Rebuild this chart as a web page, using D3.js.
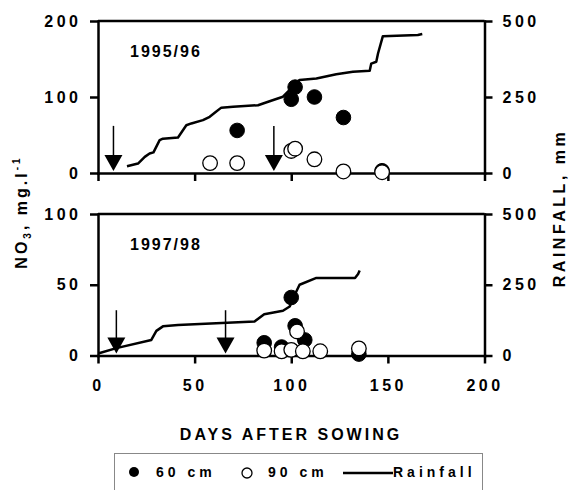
<!DOCTYPE html>
<html>
<head>
<meta charset="utf-8">
<script src="https://cdn.jsdelivr.net/npm/d3@7"></script>
<style>
  body { margin: 0; background: #fff; }
  svg text { font-family: "Liberation Sans", Arial, sans-serif; font-weight: bold; fill: #000; }
</style>
</head>
<body>
<svg id="chart" width="568" height="490"></svg>
<script>
// days after sowing, NO3 (mg/l) at two depths, cumulative rainfall (mm)
const xTicks = [0, 50, 100, 150, 200];

// 1995/96
const days95_60 = [72, 100, 102, 112, 127, 147];
const no3_95_60 = [56, 97, 113, 100, 73, 3];
const days95_90 = [58, 72, 100, 102, 112, 127, 147];
const no3_95_90 = [13, 13, 29, 32, 18, 2, 1];
const rainDays95 = [15, 20.7, 24.2, 26.7, 28.7, 31.9, 33.6, 41.4, 45.7, 48.3, 54.3, 57.8, 60.4, 63.8, 69.9, 82.8, 88.8, 95.7, 99.2, 104.3, 113, 123.3, 131.9, 140.6, 141.4, 144, 144.9, 147.4, 165.5, 167.8];
const rain95 = [22, 31, 53, 64, 68, 108, 113, 117, 157, 163, 174, 185, 198, 215, 218, 223, 236, 251, 273, 306, 311, 325, 333, 336, 360, 366, 393, 450, 454, 457];
const arrowDays95 = [8, 91];
const no3Ticks95 = [0, 100, 200];

// 1997/98
const days97_60 = [86, 95, 100, 102, 107, 135];
const no3_97_60 = [9, 6, 41, 21, 11, 1];
const days97_90 = [86, 95, 100, 103, 106, 115, 135];
const no3_97_90 = [3.5, 3, 4, 17, 3, 3, 5];
const rainDays97 = [0.5, 9.5, 27.6, 30.2, 33.6, 41.4, 81, 86, 95.7, 99.2, 101, 104.3, 113, 133, 134.6, 135.4];
const rain97 = [8, 26, 55, 87, 103, 108, 120, 146, 158, 173, 203, 250, 274, 274, 288, 300];
const arrowDays97 = [9.5, 66];
const no3Ticks97 = [0, 50, 100];

const rainTicks = [0, 250, 500];

const svg = d3.select('#chart');
const x = d3.scaleLinear().domain([0, 200]).range([98, 484.5]);

const zip = (a, b) => a.map((d, i) => [d, b[i]]);

function drawPanel(p) {
  const yL = d3.scaleLinear().domain([0, p.no3Max]).range([p.bottom, p.top]);
  const yR = d3.scaleLinear().domain([0, 500]).range([p.bottom, p.top]);
  const g = svg.append('g');

  // axes
  const left = g.append('g').attr('transform', `translate(${x(0)},0)`)
    .call(d3.axisLeft(yL).tickValues(p.no3Ticks).tickSize(8).tickSizeOuter(0).tickPadding(12));
  const right = g.append('g').attr('transform', `translate(${x(200)},0)`)
    .call(d3.axisRight(yR).tickValues(rainTicks).tickSize(8).tickSizeOuter(0).tickPadding(10));
  const bottom = g.append('g').attr('transform', `translate(0,${p.bottom})`)
    .call(d3.axisBottom(x).tickValues(xTicks).tickSize(8).tickSizeOuter(0).tickPadding(16));
  if (!p.xLabels) bottom.selectAll('text').remove();

  [left, right, bottom].forEach(a => {
    a.select('.domain').attr('stroke-width', 2.5).attr('stroke-linecap', 'square');
    a.selectAll('.tick line').attr('stroke-width', 2.5);
    a.selectAll('text').attr('font-size', 16).attr('letter-spacing', 3.5);
  });
  left.selectAll('text').attr('dx', 3.5);

  // top border
  g.append('line')
    .attr('x1', x(0)).attr('x2', x(200))
    .attr('y1', p.top).attr('y2', p.top)
    .attr('stroke', '#000').attr('stroke-width', 2.5);

  // year label
  g.append('text').attr('x', 130).attr('y', p.top + 36)
    .attr('font-size', 16).attr('letter-spacing', 2).text(p.label);

  // application arrows
  p.arrows.forEach(d => {
    const ax = x(d);
    g.append('line')
      .attr('x1', ax).attr('x2', ax)
      .attr('y1', yL(p.arrowTop)).attr('y2', p.bottom - 10)
      .attr('stroke', '#000').attr('stroke-width', 1.5);
    g.append('path')
      .attr('d', `M${ax - 9},${p.bottom - 18}L${ax + 9},${p.bottom - 18}L${ax},${p.bottom - 2}Z`)
      .attr('fill', '#000');
  });

  // rainfall
  g.append('path')
    .datum(zip(p.rainDays, p.rain))
    .attr('fill', 'none').attr('stroke', '#000').attr('stroke-width', 2.5)
    .attr('stroke-linejoin', 'round')
    .attr('d', d3.line().x(d => x(d[0])).y(d => yR(d[1])));

  // 60 cm (filled) then 90 cm (open) on top
  g.selectAll('.d60').data(zip(p.d60, p.v60)).enter()
    .append('circle').attr('class', 'd60')
    .attr('cx', d => x(d[0])).attr('cy', d => yL(d[1])).attr('r', 7.3)
    .attr('fill', '#000').attr('stroke', '#000').attr('stroke-width', 1);
  g.selectAll('.d90').data(zip(p.d90, p.v90)).enter()
    .append('circle').attr('class', 'd90')
    .attr('cx', d => x(d[0])).attr('cy', d => yL(d[1])).attr('r', 7.3)
    .attr('fill', '#fff').attr('stroke', '#000').attr('stroke-width', 1.3);
}

drawPanel({
  top: 21, bottom: 173, no3Max: 200, no3Ticks: no3Ticks95, label: '1995/96',
  d60: days95_60, v60: no3_95_60, d90: days95_90, v90: no3_95_90,
  rainDays: rainDays95, rain: rain95, arrows: arrowDays95, arrowTop: 62, xLabels: false
});
drawPanel({
  top: 214, bottom: 355.5, no3Max: 100, no3Ticks: no3Ticks97, label: '1997/98',
  d60: days97_60, v60: no3_97_60, d90: days97_90, v90: no3_97_90,
  rainDays: rainDays97, rain: rain97, arrows: arrowDays97, arrowTop: 32, xLabels: true
});

// axis titles
svg.append('text').attr('x', 291).attr('y', 440).attr('text-anchor', 'middle')
  .attr('font-size', 16).attr('letter-spacing', 3).text('DAYS AFTER SOWING');

const yt = svg.append('text').attr('transform', 'translate(27,212) rotate(-90)')
  .attr('text-anchor', 'middle').attr('font-size', 16).attr('letter-spacing', 3);
yt.append('tspan').text('NO');
yt.append('tspan').attr('font-size', 10).attr('dy', 4).text('3');
yt.append('tspan').attr('dy', -4).text(', mg.l');
yt.append('tspan').attr('font-size', 10).attr('dy', -7).text('-1');

svg.append('text').attr('transform', 'translate(565,208) rotate(-90)')
  .attr('text-anchor', 'middle').attr('font-size', 16).attr('letter-spacing', 3.5)
  .text('RAINFALL, mm');

// legend
const leg = svg.append('g');
leg.append('rect').attr('x', 114.5).attr('y', 453.5).attr('width', 368).attr('height', 50)
  .attr('fill', 'none').attr('stroke', '#888').attr('stroke-width', 1);
leg.append('circle').attr('cx', 134).attr('cy', 472).attr('r', 5).attr('fill', '#000');
leg.append('text').attr('x', 156).attr('y', 477).attr('font-size', 14).attr('letter-spacing', 4).text('60 cm');
leg.append('circle').attr('cx', 247).attr('cy', 473).attr('r', 5)
  .attr('fill', '#fff').attr('stroke', '#000').attr('stroke-width', 1.3);
leg.append('text').attr('x', 268).attr('y', 477).attr('font-size', 14).attr('letter-spacing', 4).text('90 cm');
leg.append('line').attr('x1', 343).attr('x2', 393).attr('y1', 473).attr('y2', 473)
  .attr('stroke', '#000').attr('stroke-width', 2.5);
leg.append('text').attr('x', 393).attr('y', 477).attr('font-size', 14).attr('letter-spacing', 4).text('Rainfall');
</script>
</body>
</html>
